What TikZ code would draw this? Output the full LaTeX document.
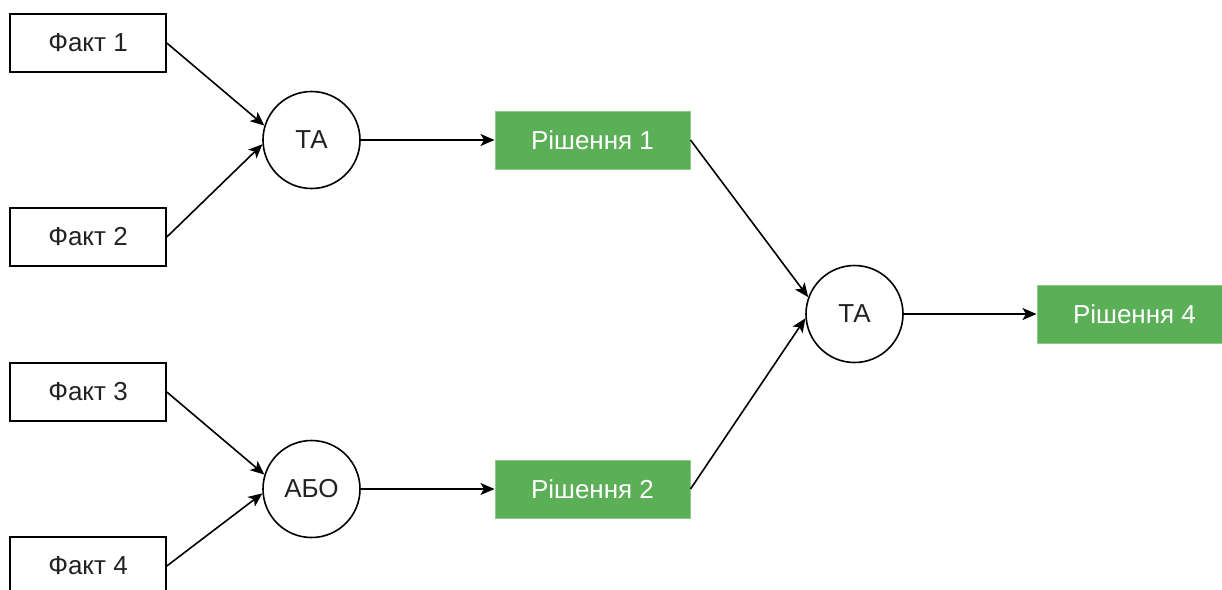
\documentclass[tikz,border=0pt]{standalone}
\usepackage{fontspec}
\setmainfont{Liberation Sans}
\usetikzlibrary{arrows.meta}
\definecolor{solgreen}{HTML}{5BAF57}
\definecolor{solborder}{HTML}{8CC98A}
\definecolor{inktext}{HTML}{222222}
\begin{document}
\begin{tikzpicture}[x=1pt,y=-1pt,
  lbl/.style={font=\fontsize{26}{30}\selectfont},
  fact/.style={lbl, draw, line width=1.6pt, minimum width=156pt, minimum height=58pt,
    inner sep=0pt, text=inktext},
  gate/.style={lbl, circle, draw, line width=1.6pt, minimum size=97pt, inner sep=0pt,
    text=inktext},
  sol/.style={lbl, fill=solgreen, draw=solborder, line width=1pt, minimum width=195pt,
    minimum height=58pt, inner sep=0pt, text=white},
  link/.style={-{Stealth[length=14pt,width=12pt,inset=3.5pt]}, line width=1.6pt}]
\useasboundingbox (0,0) rectangle (1222,589);

% facts
\node[fact] (f1) at (88,43)  {Факт 1};
\node[fact] (f2) at (88,237) {Факт 2};
\node[fact] (f3) at (88,392) {Факт 3};
\node[fact] (f4) at (88,566) {Факт 4};

% logic gates
\node[gate] (g1) at (311.5,140)  {ТА};
\node[gate] (g2) at (311.5,489)  {АБО};
\node[gate] (g3) at (854.5,314)  {ТА};

% decisions
\node[sol] (s1) at (592.5,140) {Рішення 1};
\node[sol] (s2) at (592.5,489) {Рішення 2};
\node[sol] (s4) at (1134.5,314) {Рішення 4};

% connectors
\draw[link] (f1.east) -- (g1.163);
\draw[link] (f2.east) -- (g1.185);
\draw[link] (f3.east) -- (g2.163);
\draw[link] (f4.east) -- (g2.185);
\draw[link] (g1.east) -- (s1.west);
\draw[link] (g2.east) -- (s2.west);
\draw[link] (s1.east) -- (g3.160);
\draw[link] (s2.east) -- (g3.185);
\draw[link] (g3.east) -- (s4.west);
\end{tikzpicture}
\end{document}
